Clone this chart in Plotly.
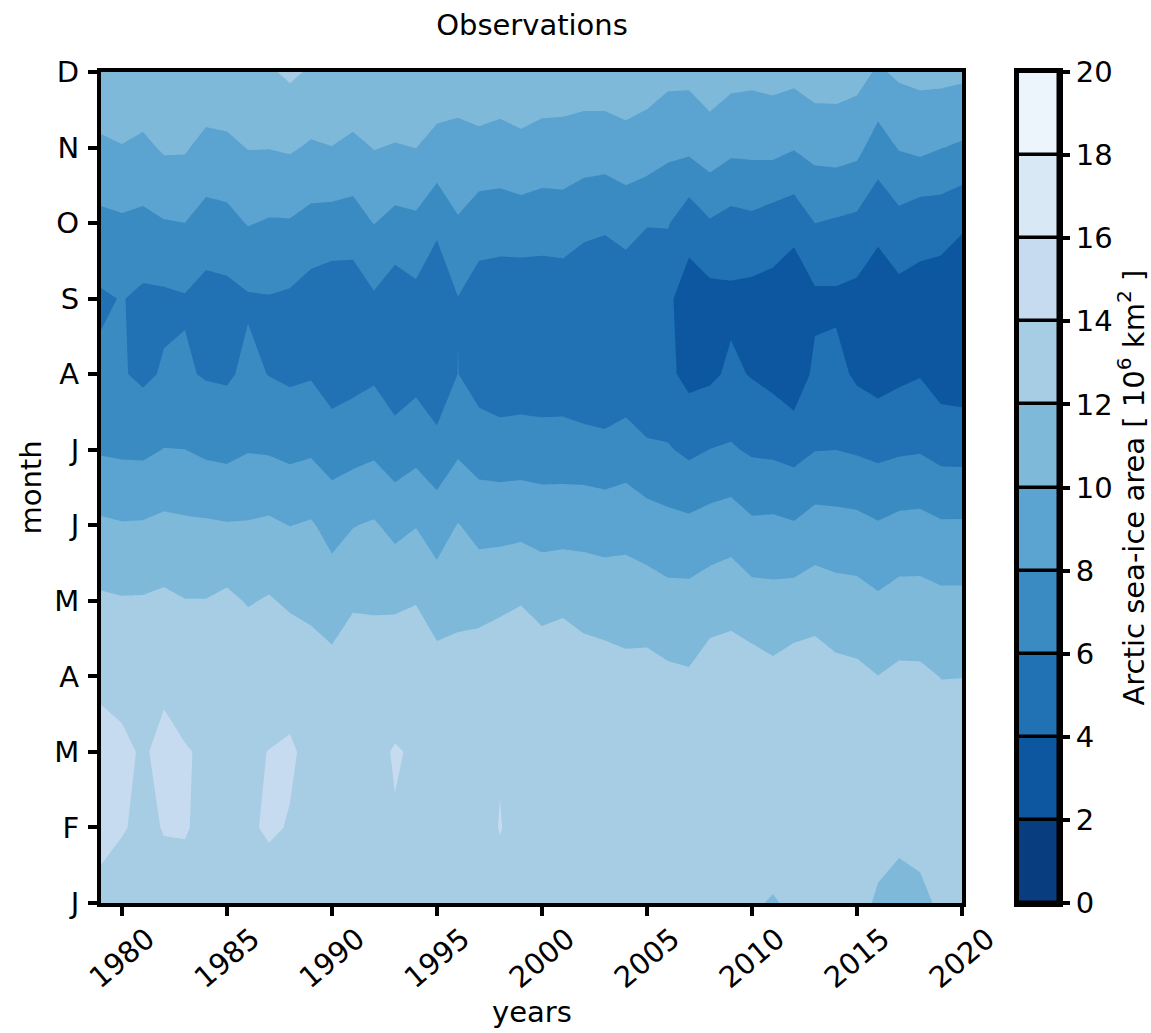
import plotly.graph_objects as go

# Arctic sea-ice area (10^6 km^2), one list per calendar month, 1979-2020
years = list(range(1979, 2021))
month_labels = ["J", "F", "M", "A", "M", "J", "J", "A", "S", "O", "N", "D"]

jan = [13.39, 13.5, 13.3, 13.69, 13.47, 13.2, 13.2, 13.2, 13.29, 13.3, 13.2, 13.1, 13.2, 13.1,
       13.2, 13.2, 13.2, 13.2, 13.1, 13.56, 13.1, 12.9, 13.0, 12.9, 12.9, 12.8, 12.6, 12.6,
       12.5, 12.6, 12.6, 12.18, 11.88, 12.28, 12.6, 12.5, 12.4, 11.83, 11.6, 11.75, 12.17, 12.3]
feb = [14.6, 14.07, 13.81, 14.04, 14.1, 13.67, 13.7, 13.8, 14.18, 13.92, 13.7, 13.6, 13.7, 13.6,
       13.95, 13.6, 13.6, 13.6, 13.5, 14.05, 13.6, 13.4, 13.4, 13.4, 13.4, 13.3, 13.1, 13.1,
       13.0, 13.1, 13.1, 13.0, 12.9, 13.0, 13.2, 13.1, 13.0, 12.47, 12.27, 12.36, 12.7, 12.8]
mar = [14.5, 14.3, 13.85, 14.35, 14.07, 13.87, 13.7, 13.85, 14.02, 14.17, 13.67, 13.6, 13.7, 13.8,
       14.06, 13.91, 13.6, 13.6, 13.6, 13.92, 13.6, 13.5, 13.5, 13.4, 13.4, 13.3, 13.2, 13.1,
       13.1, 13.2, 13.3, 13.1, 13.0, 13.1, 13.3, 13.1, 13.0, 12.6, 12.6, 12.7, 12.9, 12.8]
apr = [13.7, 13.51, 13.4, 13.73, 13.5, 13.3, 13.4, 13.54, 13.4, 13.45, 12.95, 12.65, 13.5, 13.26,
       13.55, 13.5, 12.81, 12.81, 13.16, 13.6, 13.4, 13.3, 13.5, 12.98, 12.8, 12.54, 12.64, 12.35,
       12.19, 12.99, 13.1, 12.95, 12.5, 12.95, 13.03, 12.55, 12.4, 12.02, 12.35, 12.33, 11.96, 11.98]
may = [12.27, 12.13, 12.15, 12.35, 12.05, 12.05, 12.4, 11.86, 12.15, 11.72, 11.54, 11.11, 11.72, 11.7,
       11.66, 11.91, 11.08, 11.43, 11.35, 11.56, 11.91, 11.35, 11.56, 11.25, 11.12, 11.06, 10.96, 10.62,
       10.64, 11.04, 11.28, 10.76, 10.63, 10.81, 11.1, 10.79, 10.7, 10.27, 10.69, 10.68, 10.45, 10.45]
jun = [10.31, 10.13, 10.17, 10.44, 10.3, 10.24, 10.12, 10.15, 10.33, 9.97, 10.2, 9.33, 9.93, 10.2,
       9.45, 9.93, 9.09, 10.08, 9.37, 9.38, 9.46, 9.25, 9.28, 9.32, 9.17, 9.32, 8.92, 8.58,
       8.44, 8.79, 9.07, 8.33, 8.4, 8.16, 8.78, 8.66, 8.56, 8.16, 8.53, 8.6, 8.23, 8.24]
jul = [7.81, 7.68, 7.63, 8.05, 8.01, 7.66, 7.51, 7.9, 7.81, 7.53, 7.73, 7.1, 7.33, 7.64,
       6.9, 7.4, 6.74, 7.71, 7.11, 6.96, 7.02, 6.93, 6.93, 6.84, 6.69, 6.97, 6.32, 6.17,
       5.6, 6.03, 6.2, 5.74, 5.63, 5.34, 5.94, 5.99, 5.79, 5.53, 5.74, 5.85, 5.38, 5.34]
aug = [6.35, 6.15, 5.65, 6.18, 6.21, 5.84, 5.73, 6.41, 5.95, 5.68, 5.84, 5.06, 5.39, 5.71,
       4.9, 5.38, 4.42, 6.03, 5.13, 4.72, 4.83, 4.76, 4.81, 4.38, 4.19, 4.71, 4.3, 4.4,
       3.46, 3.64, 4.33, 3.88, 3.43, 2.75, 4.41, 4.57, 3.68, 3.28, 3.63, 3.9, 3.1, 2.95]
sep = [5.75, 6.08, 5.6, 5.65, 5.85, 5.23, 5.39, 5.8, 5.9, 5.7, 5.12, 4.78, 4.78, 5.76,
       4.85, 5.44, 4.3, 5.95, 4.96, 4.75, 4.64, 4.72, 4.8, 4.24, 4.15, 4.49, 4.1, 4.3,
       3.16, 3.33, 3.6, 3.38, 3.27, 2.5, 3.6, 3.65, 3.4, 2.9, 3.34, 3.33, 3.0, 2.7]
oct = [7.53, 7.71, 7.54, 7.88, 7.99, 7.26, 7.41, 8.1, 7.84, 7.86, 7.37, 7.22, 7.15, 8.05,
       7.42, 7.61, 6.49, 7.83, 7.04, 6.99, 7.14, 6.98, 7.06, 6.61, 6.35, 6.83, 6.12, 6.14,
       4.7, 5.8, 5.28, 5.52, 5.04, 4.7, 6.01, 5.78, 5.54, 4.5, 5.37, 4.69, 4.75, 4.22]
nov = [9.61, 9.91, 9.57, 10.24, 10.2, 9.4, 9.54, 10.07, 10.05, 10.21, 9.78, 9.97, 9.51, 10.07,
       9.88, 10.02, 9.31, 9.39, 9.32, 9.18, 9.45, 9.17, 9.18, 8.93, 8.9, 9.16, 9.13, 8.47,
       8.45, 9.09, 8.45, 8.49, 8.58, 8.12, 8.62, 8.8, 8.53, 7.08, 8.12, 8.47, 8.05, 7.75]
dec = [11.78, 11.9, 11.63, 11.7, 11.6, 11.61, 11.72, 11.6, 11.79, 12.31, 11.79, 11.6, 11.86, 11.5,
       11.7, 11.6, 11.49, 10.94, 11.74, 11.33, 11.68, 11.31, 11.19, 11.14, 11.17, 11.49, 10.85, 10.52,
       10.49, 11.01, 10.62, 10.48, 10.64, 10.52, 10.98, 10.89, 10.66, 9.76, 10.31, 10.49, 10.54, 10.4]

area = [jan, feb, mar, apr, may, jun, jul, aug, sep, oct, nov, dec]

levels = list(range(0, 21, 2))
year_ticks = list(range(1980, 2021, 5))
band_colors = ["#083d7f", "#0d57a1", "#2171b5", "#3b8bc3", "#5ba3d0",
               "#7fb9da", "#a6cde4", "#c6dbef", "#d9e8f5", "#edf5fc"]

# Stepped scale: plotly samples each filled band at its mid level on a
# colour axis that spans [start - size/2, end + size/2].
n_slots = len(levels)
colorscale = []
for k, c in enumerate(band_colors):
    lo = 0.0 if k == 0 else (k + 0.5) / n_slots
    hi = 1.0 if k == len(band_colors) - 1 else (k + 1.5) / n_slots
    colorscale.append([lo, c])
    colorscale.append([hi, c])

FONT = "DejaVu Sans"
FS = 29
W, H = 1151, 1033
ML, MR, MT, MB = 101, 92, 72, 130
plot_w = W - ML - MR
plot_h = H - MT - MB
main_right = 962
cb_left = 1018

fig = go.Figure()

fig.add_trace(go.Contour(
    x=years,
    y=list(range(12)),
    z=area,
    autocontour=False,
    contours=dict(start=levels[0], end=levels[-1], size=levels[1] - levels[0],
                  coloring="fill", showlines=False),
    line=dict(width=0, smoothing=0),
    colorscale=colorscale,
    showscale=False,
    hoverinfo="skip",
    xaxis="x", yaxis="y",
))

# Discrete colour bar drawn as stacked boxes on its own axis
fig.add_trace(go.Bar(
    x=[0] * len(band_colors),
    y=[levels[i + 1] - levels[i] for i in range(len(band_colors))],
    base=levels[:-1],
    width=1,
    marker=dict(color=band_colors, line=dict(color="black", width=3.5)),
    hoverinfo="skip",
    showlegend=False,
    xaxis="x2", yaxis="y2",
))

axis_common = dict(
    showline=True, linecolor="black", linewidth=4, mirror=True,
    ticks="outside", ticklen=9, tickwidth=3.5, tickcolor="black",
    showgrid=False, zeroline=False,
    tickfont=dict(family=FONT, size=FS, color="black"),
)

annotations = []
for yr in year_ticks:
    annotations.append(dict(
        text=str(yr), x=yr, xref="x", y=0, yref="paper",
        yshift=-55, textangle=-40, showarrow=False,
        xanchor="center", yanchor="middle",
        font=dict(family=FONT, size=FS, color="black"),
    ))
annotations.append(dict(
    text="years", x=(0.5 * (main_right + ML) - ML) / plot_w, xref="paper",
    y=-(1012 - (H - MB)) / plot_h, yref="paper",
    showarrow=False, xanchor="center", yanchor="middle",
    font=dict(family=FONT, size=FS, color="black"),
))
annotations.append(dict(
    text="month", x=(30 - ML) / plot_w, xref="paper", y=0.5, yref="paper",
    textangle=-90, showarrow=False, xanchor="center", yanchor="middle",
    font=dict(family=FONT, size=FS, color="black"),
))
annotations.append(dict(
    text="Arctic sea-ice area [ 10<sup>6</sup> km<sup>2</sup> ]",
    x=(1131 - ML) / plot_w, xref="paper", y=0.5, yref="paper",
    textangle=-90, showarrow=False, xanchor="center", yanchor="middle",
    font=dict(family=FONT, size=FS, color="black"),
))

fig.update_layout(
    width=W, height=H,
    margin=dict(l=ML, r=MR, t=MT, b=MB, pad=0),
    paper_bgcolor="white", plot_bgcolor="white",
    showlegend=False,
    font=dict(family=FONT, size=FS, color="black"),
    title=dict(text="Observations", x=532 / W, xref="container", xanchor="center",
               y=1 - 25 / H, yref="container", yanchor="middle",
               font=dict(family=FONT, size=FS, color="black")),
    xaxis=dict(axis_common, domain=[0, (main_right - ML) / plot_w],
               range=[years[0], years[-1]], tickvals=year_ticks,
               showticklabels=False, anchor="y"),
    yaxis=dict(axis_common, domain=[0, 1], range=[0, 11],
               tickvals=list(range(12)), ticktext=month_labels,
               ticklabelstandoff=3, anchor="x"),
    xaxis2=dict(domain=[(cb_left - ML) / plot_w, 1], range=[-0.5, 0.5],
                showline=True, linecolor="black", linewidth=4, mirror=True,
                showticklabels=False, ticks="", showgrid=False, zeroline=False,
                anchor="y2"),
    yaxis2=dict(axis_common, domain=[0, 1], range=[levels[0], levels[-1]],
                tickvals=levels, side="right", anchor="x2", ticklen=7),
    annotations=annotations,
    bargap=0,
)

fig.write_html("out.html")
